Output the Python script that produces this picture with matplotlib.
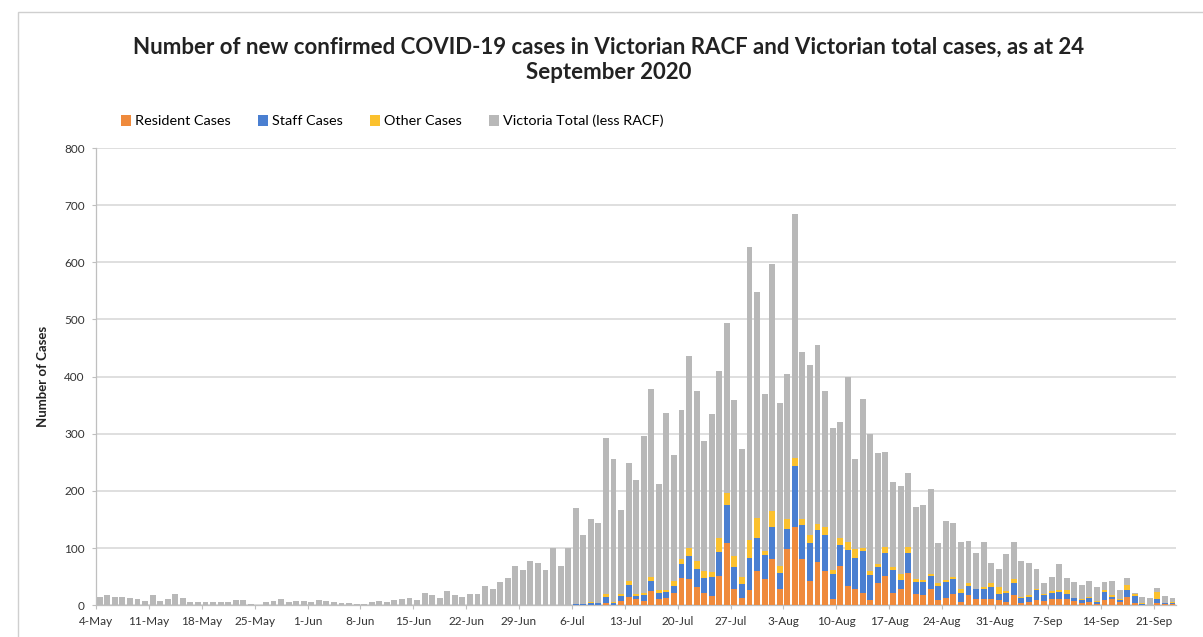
import numpy as np
import pandas as pd
import matplotlib
matplotlib.use("Agg")
import matplotlib.pyplot as plt
from matplotlib.patches import Rectangle

plt.rcParams['font.family'] = ['Lato', 'DejaVu Sans']

# daily cases, 4-May to 23-Sep 2020
start = "2020-05-04"
end = "2020-09-23"
vic_less_racf = [
    15, 17, 15, 14, 12, 10, 7,
    18, 7, 10, 20, 13, 6, 5,
    5, 5, 5, 5, 9, 9, 2,
    1, 5, 7, 10, 6, 8, 7,
    5, 9, 8, 5, 3, 4, 2,
    2, 5, 7, 6, 9, 11, 12,
    9, 21, 18, 12, 25, 18, 14,
    19, 19, 33, 29, 40, 47, 69,
    62, 77, 74, 62, 100, 69, 100,
    168, 120, 145, 140, 272, 251, 147,
    207, 199, 274, 329, 186, 310, 221,
    261, 336, 297, 227, 276, 292, 297,
    273, 223, 513, 395, 274, 433, 284,
    254, 428, 293, 299, 313, 238, 249,
    204, 289, 158, 261, 240, 194, 167,
    150, 154, 129, 127, 131, 149, 71,
    103, 94, 82, 74, 63, 78, 35,
    32, 64, 66, 62, 56, 35, 19,
    26, 45, 22, 28, 26, 27, 24,
    15, 25, 15, 12, 2, 12, 12,
    7, 12, 7,
]

# RACF cases, 6-Jul to 23-Sep 2020
racf_start = "2020-07-06"
resident = [
    0, 0, 0, 0, 3, 0, 8,
    15, 10, 8, 25, 10, 12, 22,
    48, 46, 31, 22, 16, 51, 108,
    28, 13, 26, 60, 46, 80, 28,
    98, 136, 80, 43, 75, 60, 10,
    69, 34, 28, 22, 9, 38, 51,
    22, 29, 57, 20, 17, 28, 9,
    12, 19, 6, 17, 10, 10, 10,
    9, 6, 17, 4, 6, 9, 7,
    10, 10, 10, 7, 4, 5, 2,
    9, 10, 6, 15, 3, 1, 0,
    4, 2, 2,
]
staff = [
    2, 2, 3, 3, 11, 4, 8,
    20, 6, 10, 17, 12, 11, 12,
    24, 40, 32, 26, 34, 42, 67,
    38, 24, 57, 58, 42, 57, 29,
    35, 108, 61, 65, 56, 63, 44,
    37, 62, 54, 73, 44, 28, 41,
    39, 15, 35, 21, 24, 23, 25,
    28, 26, 16, 17, 18, 18, 21,
    11, 16, 22, 8, 9, 17, 10,
    12, 13, 10, 5, 5, 7, 4,
    14, 5, 3, 12, 13, 1, 0,
    7, 1, 1,
]
other = [
    0, 0, 2, 0, 6, 1, 4,
    7, 4, 4, 8, 4, 4, 8,
    8, 14, 15, 12, 8, 25, 22,
    20, 13, 31, 35, 7, 28, 12,
    17, 13, 9, 14, 11, 13, 7,
    11, 15, 16, 5, 7, 6, 9,
    5, 10, 10, 4, 3, 4, 4,
    4, 5, 7, 5, 1, 4, 7,
    12, 3, 6, 3, 2, 3, 3,
    2, 4, 6, 1, 1, 3, 1,
    3, 2, 2, 8, 4, 1, 1,
    12, 1, 2,
]

dates = pd.date_range(start, end, freq="D")
racf_dates = pd.date_range(racf_start, end, freq="D")
vic = pd.Series(vic_less_racf, index=dates)
racf = pd.DataFrame({"Resident Cases": resident, "Staff Cases": staff,
                     "Other Cases": other}, index=racf_dates).reindex(dates, fill_value=0)

colors = {"Resident Cases": "#ef8a3c", "Staff Cases": "#4a7fd1",
          "Other Cases": "#fbc12e", "Victoria Total (less RACF)": "#b8b8b8"}

fig = plt.figure(figsize=(12.03, 6.37), dpi=100)
ax = fig.add_axes([0.0798, 0.050, 0.898, 0.7175])

x = np.arange(len(dates)) + 0.5
bottom = np.zeros(len(dates))
handles = []
for name in ["Resident Cases", "Staff Cases", "Other Cases"]:
    h = ax.bar(x, racf[name].values, 0.78, bottom=bottom, color=colors[name],
               label=name, zorder=3)
    bottom += racf[name].values
    handles.append(h)
h = ax.bar(x, vic.values, 0.78, bottom=bottom,
           color=colors["Victoria Total (less RACF)"],
           label="Victoria Total (less RACF)", zorder=3)
handles.append(h)

ax.set_xlim(0, len(dates))
ax.set_ylim(0, 800)
ax.set_yticks(np.arange(0, 801, 100))
ax.yaxis.grid(True, color="#d9d9d9", linewidth=1.2, zorder=0)

tick_pos = np.arange(0, len(dates), 7)
ax.set_xticks(tick_pos)
ax.set_xticklabels([f"{d.day}-{d.strftime('%b')}" for d in dates[tick_pos]])
ax.tick_params(axis="both", labelsize=8.5, colors="#333333", length=3,
               width=0.8)
ax.tick_params(axis="x", pad=5, color="#bfbfbf")
ax.tick_params(axis="y", color="#bfbfbf", pad=5)

for side in ["top", "right"]:
    ax.spines[side].set_visible(False)
for side in ["left", "bottom"]:
    ax.spines[side].set_color("#bfbfbf")
    ax.spines[side].set_linewidth(0.9)

ax.set_ylabel("Number of Cases", fontsize=9.5, fontweight="bold", labelpad=11,
              color="#222222")

fig.text(0.506, 0.906,
         "Number of new confirmed COVID-19 cases in Victorian RACF and Victorian total cases, as at 24\nSeptember 2020",
         ha="center", va="center", fontsize=16, fontweight="bold",
         color="#222222", linespacing=1.3)

fig.legend(handles=handles, loc="center left",
           bbox_to_anchor=(108 / 1203, 1 - 121 / 637), ncol=4, frameon=False,
           fontsize=10.4, handlelength=0.7, handleheight=0.8, handletextpad=0.3,
           columnspacing=1.85)

fig.patches.append(Rectangle((18 / 1203, -0.1), 1.2, 1 - 12 / 637 + 0.1,
                             transform=fig.transFigure, fill=False,
                             edgecolor="#cfcfcf", linewidth=1))

fig.savefig("out.png", dpi=100)
